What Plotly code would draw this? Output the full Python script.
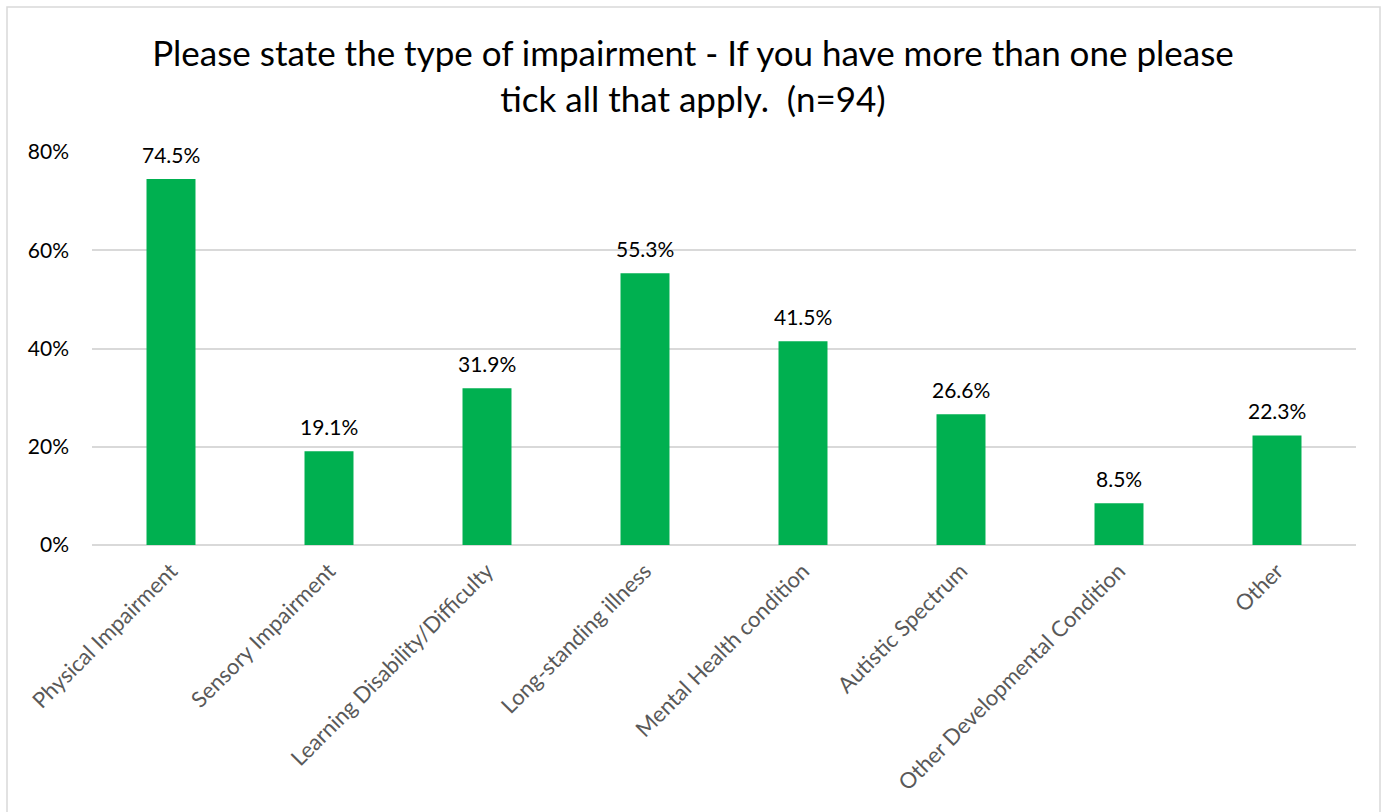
import plotly.graph_objects as go

categories = [
    "Physical Impairment",
    "Sensory Impairment",
    "Learning Disability/Difficulty",
    "Long-standing illness",
    "Mental Health condition",
    "Autistic Spectrum",
    "Other Developmental Condition",
    "Other",
]
values = [74.5, 19.1, 31.9, 55.3, 41.5, 26.6, 8.5, 22.3]
y_ticks = [0, 20, 40, 60, 80]
y_tick_labels = ["0%", "20%", "40%", "60%", "80%"]

W, H = 1386, 812
ML, MR, MT, MB = 92, 30, 152, 267
FONT = "Lato, 'Open Sans', sans-serif"

fig = go.Figure(
    go.Bar(
        x=categories,
        y=values,
        marker=dict(color="#00B050", line=dict(width=0)),
        width=0.31,
        cliponaxis=False,
        hoverinfo="x+y",
    )
)

# value labels above each bar
for cat, v in zip(categories, values):
    fig.add_annotation(
        x=cat, y=v, text=f"{v:.1f}%", showarrow=False,
        xanchor="center", yanchor="bottom", yshift=10,
        font=dict(size=21, color="#000000", family=FONT),
    )

# outer chart border, in paper coordinates
pw = W - ML - MR
ph = H - MT - MB
def px_x(px):
    return (px - ML) / pw
def px_y(py):
    return (H - MB - py) / ph

fig.add_shape(
    type="rect", xref="paper", yref="paper",
    x0=px_x(7), x1=px_x(1380), y0=px_y(830), y1=px_y(7),
    line=dict(color="#D9D9D9", width=1.5), fillcolor="rgba(0,0,0,0)", layer="below",
)

fig.update_layout(
    width=W, height=H,
    margin=dict(l=ML, r=MR, t=MT, b=MB),
    paper_bgcolor="white", plot_bgcolor="white",
    font=dict(family=FONT),
    title=dict(
        text="Please state the type of impairment - If you have more than one please<br>tick all that apply.  (n=94)",
        x=0.5, xanchor="center", y=1 - 66 / H, yanchor="middle",
        font=dict(size=35, color="#000000", family=FONT),
    ),
    showlegend=False,
    bargap=0.69,
)
fig.update_xaxes(
    tickangle=-45,
    tickfont=dict(size=22, color="#595959", family=FONT),
    showline=False, showgrid=False, ticks="", ticklabelstandoff=8,
)
fig.update_yaxes(
    range=[0, 80],
    tickvals=y_ticks, ticktext=y_tick_labels,
    tickfont=dict(size=21, color="#000000", family=FONT),
    showgrid=True, gridcolor="#D9D9D9", gridwidth=1.5,
    zeroline=True, zerolinecolor="#D9D9D9", zerolinewidth=1.5,
    showline=False, ticks="", ticklabelstandoff=22,
)

fig.write_html("out.html")
